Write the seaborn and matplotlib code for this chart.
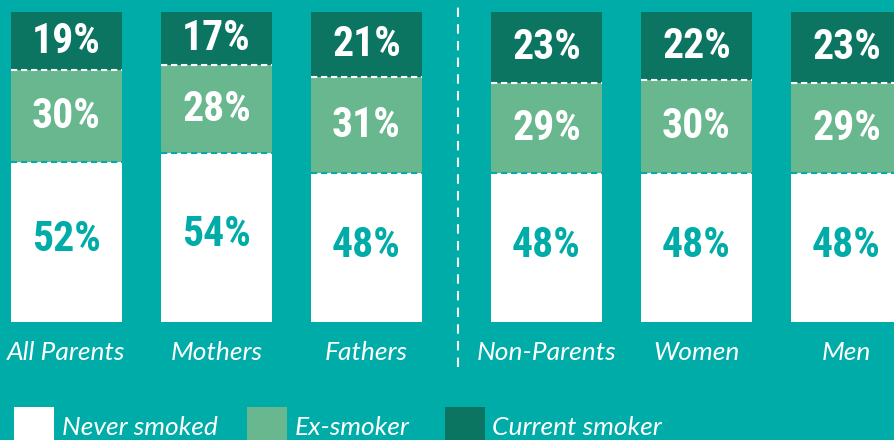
import pandas as pd
import matplotlib.pyplot as plt
import seaborn as sns
from matplotlib.patches import Rectangle

groups = ['All Parents', 'Mothers', 'Fathers', 'Non-Parents', 'Women', 'Men']
never_smoked = [52, 54, 48, 48, 48, 48]
ex_smoker = [30, 28, 31, 29, 30, 29]
current_smoker = [19, 17, 21, 23, 22, 23]
legend_labels = ['Never smoked', 'Ex-smoker', 'Current smoker']

# bar centres, with an extra gap between parents and the rest
xpos = [0, 1, 2, 3.2, 4.2, 5.2]

BG = '#00ACA8'
DARK = '#0B7562'
LIGHT = '#69B78F'
NUMFONT = ['Roboto Condensed', 'DejaVu Sans']
LABFONT = ['Lato', 'DejaVu Sans']

df = pd.DataFrame({'group': groups, 'x': xpos, 'never': never_smoked,
                   'ex': ex_smoker, 'cur': current_smoker})
total = df[['never', 'ex', 'cur']].sum(axis=1)
# stacks are scaled to a full bar
df['never_top'] = df.never / total * 100
df['ex_top'] = (df.never + df.ex) / total * 100
df['cur_top'] = 100.0

fig = plt.figure(figsize=(8.95, 4.4), dpi=100)
fig.patch.set_facecolor(BG)
ax = fig.add_axes([0, 0, 1, 1])
ax.set_facecolor(BG)

for col, color in [('cur_top', DARK), ('ex_top', LIGHT), ('never_top', 'white')]:
    sns.barplot(data=df, x='x', y=col, native_scale=True, width=0.74, color=color,
                saturation=1, linewidth=0, errorbar=None, ax=ax)

hw = 0.37
ax.hlines(df.ex_top, df.x - hw, df.x + hw, colors='white', lw=1.5, linestyles=(0, (3, 1.8)))
ax.hlines(df.never_top, df.x - hw, df.x + hw, colors=BG, lw=1.5, linestyles=(0, (3, 1.8)))

# divider between parents and non-parents
ax.vlines(2.61, -14.5, 103.2, colors='white', lw=1.5, linestyles=(0, (4.5, 3.5)))

num = dict(ha='center', va='center', fontsize=30, fontweight='bold', family=NUMFONT)
for _, r in df.iterrows():
    ax.text(r.x, r.never_top / 2 + 0.8, f'{r.never}%', color=BG, **num)
    ax.text(r.x, (r.never_top + r.ex_top) / 2, f'{r.ex}%', color='white', **num)
    ax.text(r.x, (r.ex_top + r.cur_top) / 2, f'{r.cur}%', color='white', **num)
    ax.text(r.x, -12.3, r.group, ha='center', va='baseline', color='white',
            fontsize=19, style='italic', family=LABFONT)

ax.set_xlim(-0.443, 5.523)
ax.set_ylim(-38.06, 103.87)
ax.axis('off')

# legend
W, H = 895, 440
for (x0, tx), c, lab in zip([(14, 62), (247, 295), (445, 492)], ['white', LIGHT, DARK], legend_labels):
    fig.add_artist(Rectangle((x0 / W, (H - 447) / H), 40 / W, 40 / H,
                             transform=fig.transFigure, color=c, lw=0))
    fig.text(tx / W, (H - 435) / H, lab, ha='left', va='baseline', color='white',
             fontsize=19, style='italic', family=LABFONT)

fig.savefig('out.png', dpi=100, facecolor=BG)
